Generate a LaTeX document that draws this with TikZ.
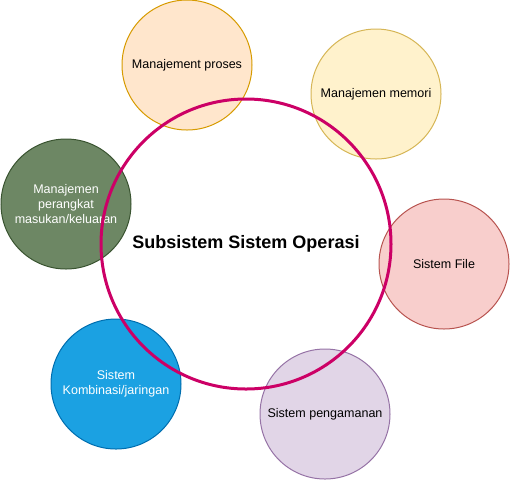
\documentclass[tikz,border=0pt]{standalone}
\usepackage{fontspec}
\setmainfont{Liberation Sans}
\usetikzlibrary{positioning}

\definecolor{prosesfill}{HTML}{FFE6CC}
\definecolor{prosesline}{HTML}{D79B00}
\definecolor{memorifill}{HTML}{FFF2CC}
\definecolor{memoriline}{HTML}{D6B656}
\definecolor{iofill}{HTML}{6D8764}
\definecolor{ioline}{HTML}{3A5431}
\definecolor{filefill}{HTML}{F8CECC}
\definecolor{fileline}{HTML}{B85450}
\definecolor{netfill}{HTML}{1BA1E2}
\definecolor{netline}{HTML}{006EAF}
\definecolor{amanfill}{HTML}{E1D5E7}
\definecolor{amanline}{HTML}{9673A6}
\definecolor{ringline}{HTML}{CC0066}

\begin{document}
\begin{tikzpicture}[x=0.75pt, y=-0.75pt,
  part/.style={circle, minimum size=97.5pt, inner sep=0pt, line width=0.75pt,
    align=center, font=\fontsize{9.4}{11}\selectfont},
  ring/.style={circle, draw=ringline, line width=2.25pt, minimum size=217.5pt,
    inner sep=0pt, font=\fontsize{13.5}{16}\selectfont\bfseries}]

  \useasboundingbox (0,0) rectangle (510,480);

  % the six parts
  \node[part, fill=prosesfill, draw=prosesline] (proses) at (187,65) {Manajement proses};
  \node[part, fill=memorifill, draw=memoriline] (memori) at (376,94) {Manajemen memori};
  \node[part, fill=iofill, draw=ioline, text=white] (io) at (66,204)
    {Manajemen\\perangkat\\masukan/keluaran};
  \node[part, fill=filefill, draw=fileline] (file) at (444,264) {Sistem File};
  \node[part, fill=netfill, draw=netline, text=white] (jaringan) at (116,384)
    {Sistem\\Kombinasi/jaringan};
  \node[part, fill=amanfill, draw=amanline] (aman) at (325,414) {Sistem pengamanan};

  % big ring on top
  \node[ring] (subsistem) at (246,244) {Subsistem Sistem Operasi};
\end{tikzpicture}
\end{document}
